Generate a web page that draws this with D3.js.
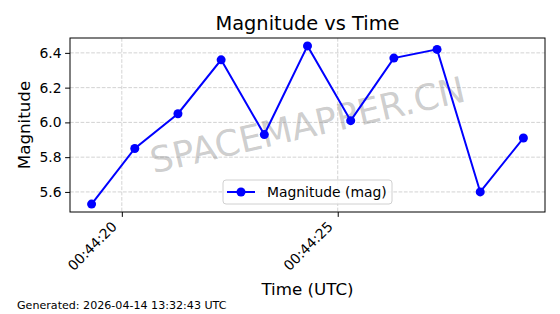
<!DOCTYPE html>
<html>
<head>
<meta charset="utf-8">
<script src="https://cdn.jsdelivr.net/npm/d3@7"></script>
<style>
  body { margin: 0; background: #fff; }
  text { font-family: "DejaVu Sans", sans-serif; }
</style>
</head>
<body>
<svg id="chart" width="560" height="314"></svg>
<script>
// seconds after 00:44:00 UTC
const times = [19.3, 20.3, 21.3, 22.3, 23.3, 24.3, 25.3, 26.3, 27.3, 28.3, 29.3];
const magnitudes = [5.53, 5.85, 6.05, 6.36, 5.93, 6.44, 6.01, 6.37, 6.42, 5.60, 5.91];
const yTicks = [5.6, 5.8, 6.0, 6.2, 6.4];
const xTicks = [20, 25];
const xTickLabels = ["00:44:20", "00:44:25"];

const margin = { top: 38, left: 70, right: 15, bottom: 102 };
const width = 560, height = 314;
const svg = d3.select("#chart");

const pw = width - margin.left - margin.right;
const ph = height - margin.top - margin.bottom;

const xPad = (d3.max(times) - d3.min(times)) * 0.05;
const yPad = (d3.max(magnitudes) - d3.min(magnitudes)) * 0.05;
const x = d3.scaleLinear()
    .domain([d3.min(times) - xPad, d3.max(times) + xPad])
    .range([margin.left, margin.left + pw]);
const y = d3.scaleLinear()
    .domain([d3.min(magnitudes) - yPad, d3.max(magnitudes) + yPad])
    .range([margin.top + ph, margin.top]);

// grid
const grid = svg.append("g");
grid.selectAll(".gx").data(xTicks).enter().append("line")
    .attr("x1", d => x(d)).attr("x2", d => x(d))
    .attr("y1", margin.top).attr("y2", margin.top + ph)
    .attr("stroke", "#b0b0b0").attr("stroke-opacity", 0.7)
    .attr("stroke-dasharray", "3.7,1.6").attr("stroke-width", 0.8);
grid.selectAll(".gy").data(yTicks).enter().append("line")
    .attr("x1", margin.left).attr("x2", margin.left + pw)
    .attr("y1", d => y(d)).attr("y2", d => y(d))
    .attr("stroke", "#b0b0b0").attr("stroke-opacity", 0.7)
    .attr("stroke-dasharray", "3.7,1.6").attr("stroke-width", 0.8);

// watermark
const wm = svg.append("text")
    .attr("transform", `translate(${margin.left + pw / 2},${margin.top + ph / 2}) rotate(-13)`)
    .attr("text-anchor", "middle")
    .attr("dominant-baseline", "central")
    .attr("fill", "#808080")
    .attr("fill-opacity", 0.4)
    .style("font-size", "36px")
    .text("SPACEMAPPER.CN");
const wl = wm.node().getComputedTextLength();
wm.style("font-size", (36 * 322 / wl) + "px");

// line + markers
const line = d3.line().x((d, i) => x(times[i])).y(d => y(d));
svg.append("path")
    .datum(magnitudes)
    .attr("d", line)
    .attr("fill", "none")
    .attr("stroke", "#0000ff")
    .attr("stroke-width", 2);
svg.selectAll(".pt").data(magnitudes).enter().append("circle")
    .attr("cx", (d, i) => x(times[i]))
    .attr("cy", d => y(d))
    .attr("r", 4.5)
    .attr("fill", "#0000ff");

// axes
const xAxis = svg.append("g")
    .attr("transform", `translate(0,${margin.top + ph})`)
    .call(d3.axisBottom(x).tickValues(xTicks).tickFormat((d, i) => xTickLabels[i]).tickSize(4.9).tickPadding(3));
xAxis.select(".domain").remove();
xAxis.selectAll("text")
    .style("font-size", "13.9px")
    .attr("fill", "#000")
    .attr("text-anchor", "end")
    .attr("dy", "0.35em")
    .attr("transform", "translate(-8,12) rotate(-45)")
    .attr("y", 0).attr("x", 0);

const yAxis = svg.append("g")
    .attr("transform", `translate(${margin.left},0)`)
    .call(d3.axisLeft(y).tickValues(yTicks).tickFormat(d3.format(".1f")).tickSize(4.9).tickPadding(3.5));
yAxis.select(".domain").remove();
yAxis.selectAll("text").style("font-size", "13.9px").attr("fill", "#000");

svg.append("rect")
    .attr("x", margin.left).attr("y", margin.top)
    .attr("width", pw).attr("height", ph)
    .attr("fill", "none").attr("stroke", "#000").attr("stroke-width", 1);

// legend
const lg = svg.append("g").attr("transform", "translate(223,180)");
lg.append("rect")
    .attr("width", 169).attr("height", 24).attr("rx", 3)
    .attr("fill", "#fff").attr("fill-opacity", 0.8)
    .attr("stroke", "#d0d0d0");
lg.append("line").attr("x1", 4).attr("x2", 32).attr("y1", 12).attr("y2", 12)
    .attr("stroke", "#0000ff").attr("stroke-width", 2);
lg.append("circle").attr("cx", 18).attr("cy", 12).attr("r", 4.5).attr("fill", "#0000ff");
lg.append("text").attr("x", 44).attr("y", 12).attr("dy", "0.35em")
    .style("font-size", "13.9px").text("Magnitude (mag)");

// titles
svg.append("text").attr("x", margin.left + pw / 2).attr("y", 30)
    .attr("text-anchor", "middle").style("font-size", "19.4px").text("Magnitude vs Time");
svg.append("text").attr("x", margin.left + pw / 2).attr("y", 295)
    .attr("text-anchor", "middle").style("font-size", "16.7px").text("Time (UTC)");
svg.append("text")
    .attr("transform", `translate(30,${margin.top + ph / 2}) rotate(-90)`)
    .attr("text-anchor", "middle").style("font-size", "16.7px").text("Magnitude");
svg.append("text").attr("x", 17).attr("y", 309)
    .style("font-size", "11.1px").text("Generated: 2026-04-14 13:32:43 UTC");
</script>
</body>
</html>
